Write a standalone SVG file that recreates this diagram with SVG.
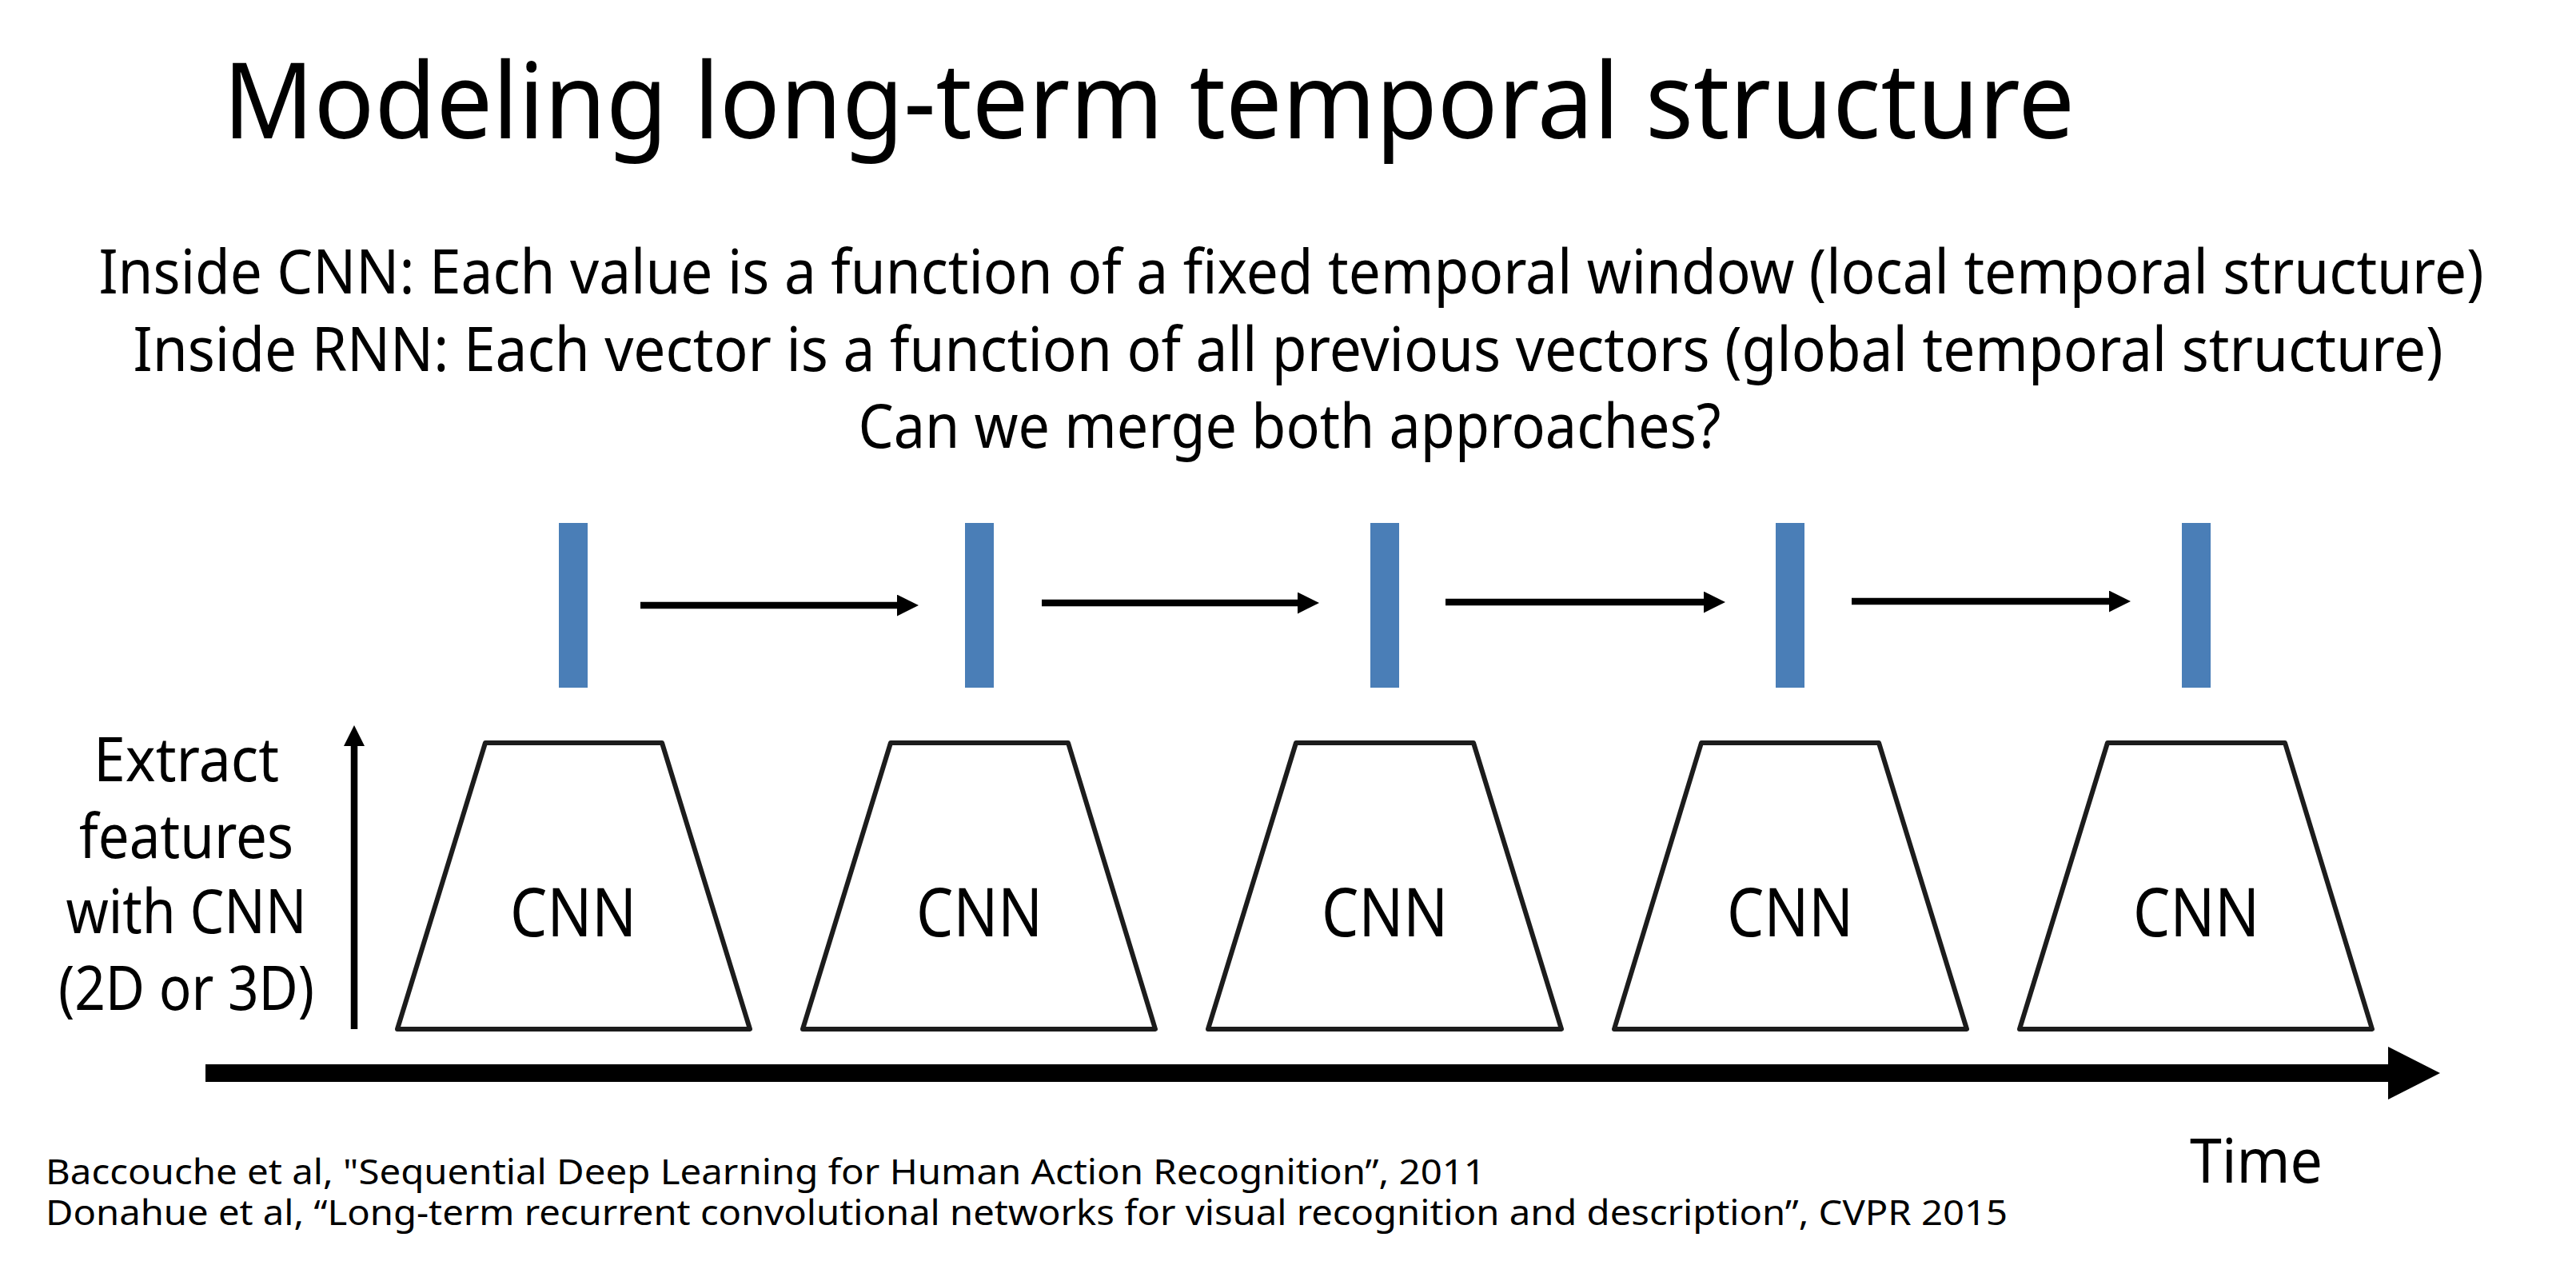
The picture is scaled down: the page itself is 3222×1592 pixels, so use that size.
<svg xmlns="http://www.w3.org/2000/svg" width="3222" height="1592" viewBox="0 0 3222 1592">
<style>
text { font-family: "Noto Sans", "Open Sans", sans-serif; fill: #000; }
.title { font-size: 132px; }
.sub { font-size: 77px; text-anchor: middle; }
.lbl { font-size: 77px; text-anchor: middle; }
.cnn { font-size: 84px; text-anchor: middle; }
.ref { font-size: 44px; }
.bar { fill: #4A7EB7; }
.trap { fill: #fff; stroke: #1c1c1c; stroke-width: 6; stroke-linejoin: round; }
.conn { stroke: #000; stroke-width: 8.5; fill: none; }
</style>
<defs>
<marker id="ah" markerUnits="userSpaceOnUse" markerWidth="28" markerHeight="28" refX="0" refY="13.4" orient="auto"><path d="M0,0 L27,13.4 L0,26.8 Z" fill="#000"/></marker>
<marker id="ahv" markerUnits="userSpaceOnUse" markerWidth="27" markerHeight="27" refX="0" refY="13" orient="auto"><path d="M0,0 L26,13 L0,26 Z" fill="#000"/></marker>
<marker id="aht" markerUnits="userSpaceOnUse" markerWidth="66" markerHeight="67" refX="0" refY="33" orient="auto"><path d="M0,0 L65,33 L0,66 Z" fill="#000"/></marker>
</defs>
<rect width="3222" height="1592" fill="#fff"/>
<g id="title"><text class="title" x="279" y="173" textLength="2316" lengthAdjust="spacingAndGlyphs">Modeling long-term temporal structure</text></g>
<g id="subtitle">
<text class="sub" x="1615" y="367" textLength="2983" lengthAdjust="spacingAndGlyphs">Inside CNN: Each value is a function of a fixed temporal window (local temporal structure)</text>
<text class="sub" x="1611" y="464" textLength="2889" lengthAdjust="spacingAndGlyphs">Inside RNN: Each vector is a function of all previous vectors (global temporal structure)</text>
<text class="sub" x="1613" y="560" textLength="1079" lengthAdjust="spacingAndGlyphs">Can we merge both approaches?</text>
</g>
<g id="side-label">
<text class="lbl" x="233" y="977" textLength="232" lengthAdjust="spacingAndGlyphs">Extract</text>
<text class="lbl" x="233" y="1073" textLength="268" lengthAdjust="spacingAndGlyphs">features</text>
<text class="lbl" x="233" y="1167" textLength="301" lengthAdjust="spacingAndGlyphs">with CNN</text>
<text class="lbl" x="233" y="1263" textLength="320" lengthAdjust="spacingAndGlyphs">(2D or 3D)</text>
</g>
<g id="vec1"><rect class="bar" x="699" y="654" width="36" height="206"/></g>
<g id="vec2"><rect class="bar" x="1207" y="654" width="36" height="206"/></g>
<g id="vec3"><rect class="bar" x="1714" y="654" width="36" height="206"/></g>
<g id="vec4"><rect class="bar" x="2221" y="654" width="36" height="206"/></g>
<g id="vec5"><rect class="bar" x="2729" y="654" width="36" height="206"/></g>
<g id="cnn1"><polygon class="trap" points="607,929 828,929 938,1287 497,1287"/><text class="cnn" x="717" y="1171" textLength="158" lengthAdjust="spacingAndGlyphs">CNN</text></g>
<g id="cnn2"><polygon class="trap" points="1114,929 1336,929 1445,1287 1004,1287"/><text class="cnn" x="1225" y="1171" textLength="158" lengthAdjust="spacingAndGlyphs">CNN</text></g>
<g id="cnn3"><polygon class="trap" points="1621,929 1843,929 1953,1287 1511,1287"/><text class="cnn" x="1732" y="1171" textLength="158" lengthAdjust="spacingAndGlyphs">CNN</text></g>
<g id="cnn4"><polygon class="trap" points="2128,929 2350,929 2460,1287 2019,1287"/><text class="cnn" x="2239" y="1171" textLength="158" lengthAdjust="spacingAndGlyphs">CNN</text></g>
<g id="cnn5"><polygon class="trap" points="2636,929 2858,929 2967,1287 2526,1287"/><text class="cnn" x="2747" y="1171" textLength="158" lengthAdjust="spacingAndGlyphs">CNN</text></g>
<g id="connectors">
<line class="conn" x1="801" y1="757" x2="1122" y2="757" marker-end="url(#ah)"/>
<line class="conn" x1="1303" y1="754" x2="1623" y2="754" marker-end="url(#ah)"/>
<line class="conn" x1="1808" y1="753" x2="2131" y2="753" marker-end="url(#ah)"/>
<line class="conn" x1="2316" y1="752" x2="2638" y2="752" marker-end="url(#ah)"/>
<line class="conn" x1="443" y1="1287" x2="443" y2="933" stroke-width="8" marker-end="url(#ahv)"/>
<line class="conn" x1="257" y1="1342" x2="2987" y2="1342" style="stroke-width:22" marker-end="url(#aht)"/>
</g>
<g id="time-label"><text x="2739" y="1479" font-size="77" textLength="166" lengthAdjust="spacingAndGlyphs">Time</text></g>
<g id="references">
<text class="ref" x="57" y="1481" textLength="1801" lengthAdjust="spacingAndGlyphs">Baccouche et al, "Sequential Deep Learning for Human Action Recognition”, 2011</text>
<text class="ref" x="57" y="1532" textLength="2454" lengthAdjust="spacingAndGlyphs">Donahue et al, “Long-term recurrent convolutional networks for visual recognition and description”, CVPR 2015</text>
</g>
</svg>
